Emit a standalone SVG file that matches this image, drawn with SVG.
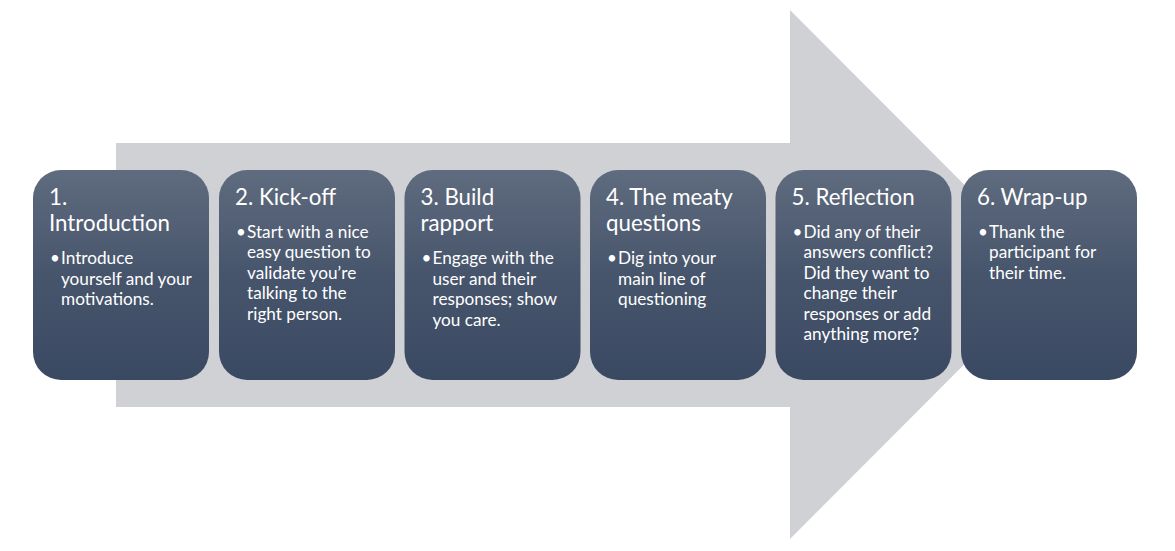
<svg xmlns="http://www.w3.org/2000/svg" width="1175" height="551" viewBox="0 0 1175 551">
<style>
.box{fill:url(#g);}
.t{font-family:Lato,"Open Sans",sans-serif;fill:#ffffff;}
.h{font-size:22.3px;}
.b{font-size:17.2px;}
.d{font-family:Lato,"Open Sans",sans-serif;font-size:17px;fill:#ffffff;}
</style>
<defs>
<linearGradient id="g" x1="0" y1="0" x2="0" y2="1">
<stop offset="0" stop-color="#5f6b7e"/>
<stop offset="0.5" stop-color="#47556c"/>
<stop offset="1" stop-color="#3a4962"/>
</linearGradient>
</defs>
<rect width="1175" height="551" fill="#ffffff"/>
<g id="connectors">
<polygon points="116,143 790,143 790,10 1054,274.5 790,539 790,407 116,407" fill="#d0d1d5"/>
</g>
<g id="n1">
<rect class="box" x="33" y="170" width="176" height="210" rx="28"/>
<text class="t h" x="49" y="205">1.</text>
<text class="t h" x="49" y="231">Introduction</text>
<text class="d" x="50" y="264">•</text>
<text class="t b" x="61" y="264">Introduce</text>
<text class="t b" x="61" y="284.5">yourself and your</text>
<text class="t b" x="61" y="305">motivations.</text>
</g>
<g id="n2">
<rect class="box" x="219" y="170" width="176" height="210" rx="28"/>
<text class="t h" x="235" y="205">2. Kick-off</text>
<text class="d" x="236" y="237.5">•</text>
<text class="t b" x="247" y="237.5">Start with a nice</text>
<text class="t b" x="247" y="258">easy question to</text>
<text class="t b" x="247" y="278.5">validate you’re</text>
<text class="t b" x="247" y="299">talking to the</text>
<text class="t b" x="247" y="319.5">right person.</text>
</g>
<g id="n3">
<rect class="box" x="404.5" y="170" width="176" height="210" rx="28"/>
<text class="t h" x="420.5" y="205">3. Build</text>
<text class="t h" x="420.5" y="231">rapport</text>
<text class="d" x="421.5" y="264">•</text>
<text class="t b" x="432.5" y="264">Engage with the</text>
<text class="t b" x="432.5" y="284.5">user and their</text>
<text class="t b" x="432.5" y="305">responses; show</text>
<text class="t b" x="432.5" y="325.5">you care.</text>
</g>
<g id="n4">
<rect class="box" x="590" y="170" width="176" height="210" rx="28"/>
<text class="t h" x="606" y="205">4. The meaty</text>
<text class="t h" x="606" y="231">questions</text>
<text class="d" x="607" y="264">•</text>
<text class="t b" x="618" y="264">Dig into your</text>
<text class="t b" x="618" y="284.5">main line of</text>
<text class="t b" x="618" y="305">questioning</text>
</g>
<g id="n5">
<rect class="box" x="775.5" y="170" width="176" height="210" rx="28"/>
<text class="t h" x="791.5" y="205">5. Reflection</text>
<text class="d" x="792.5" y="237.5">•</text>
<text class="t b" x="803.5" y="237.5">Did any of their</text>
<text class="t b" x="803.5" y="258">answers conflict?</text>
<text class="t b" x="803.5" y="278.5">Did they want to</text>
<text class="t b" x="803.5" y="299">change their</text>
<text class="t b" x="803.5" y="319.5">responses or add</text>
<text class="t b" x="803.5" y="340">anything more?</text>
</g>
<g id="n6">
<rect class="box" x="961" y="170" width="176" height="210" rx="28"/>
<text class="t h" x="977" y="205">6. Wrap-up</text>
<text class="d" x="978" y="237.5">•</text>
<text class="t b" x="989" y="237.5">Thank the</text>
<text class="t b" x="989" y="258">participant for</text>
<text class="t b" x="989" y="278.5">their time.</text>
</g>
</svg>
